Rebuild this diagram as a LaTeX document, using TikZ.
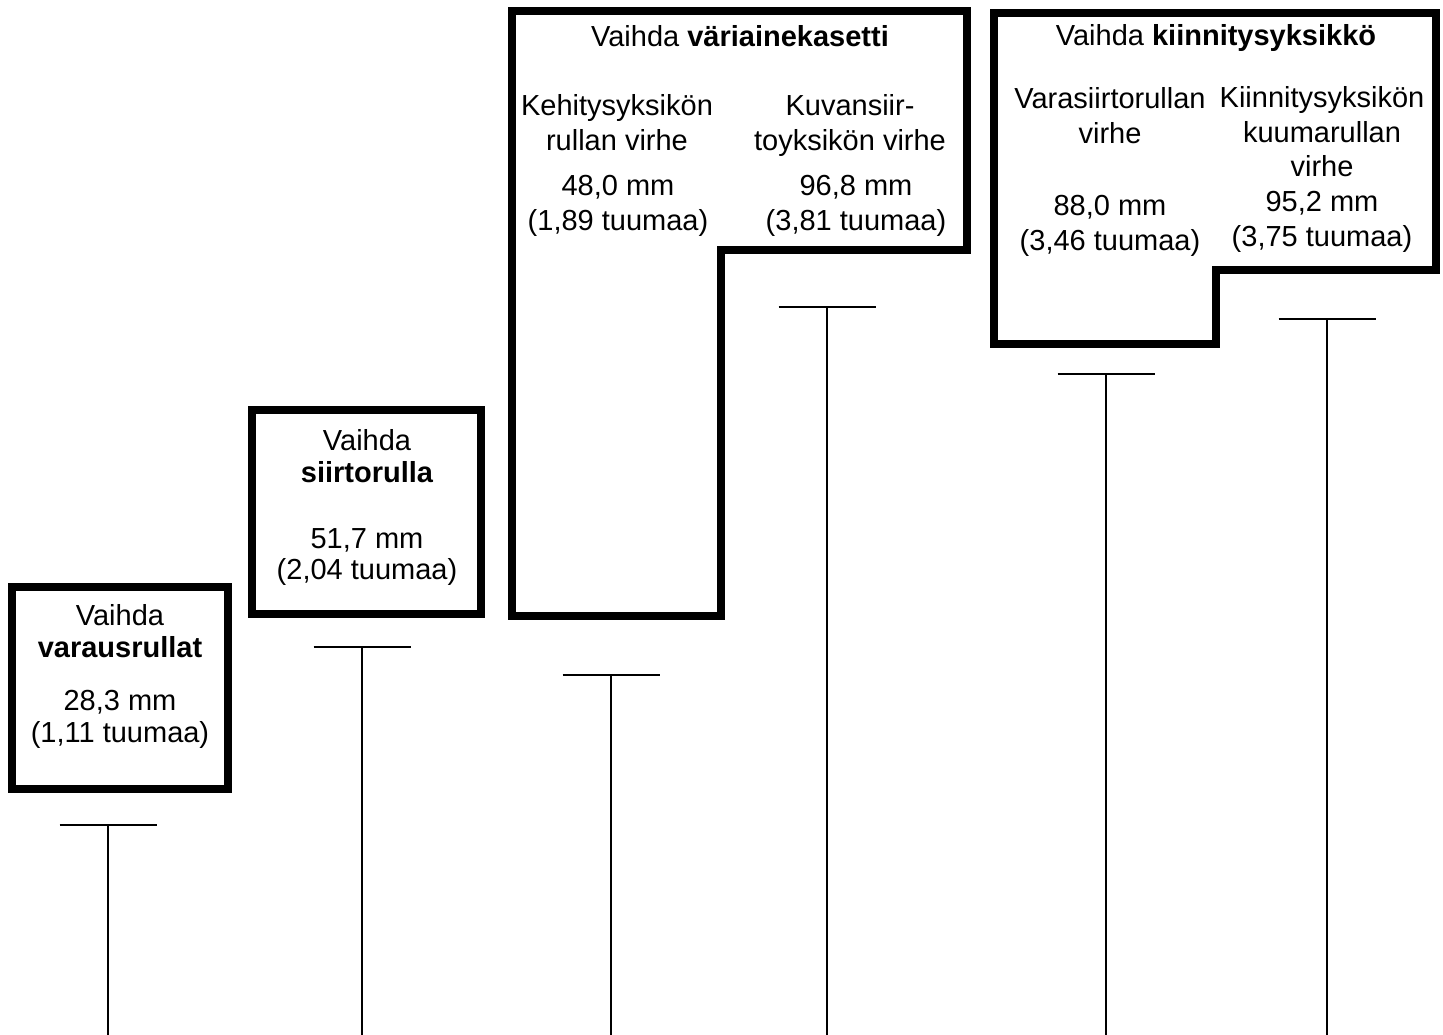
\documentclass[tikz,border=0pt]{standalone}
\usepackage{fontspec}
\setmainfont{Liberation Sans}
\begin{document}
\begin{tikzpicture}[x=1pt,y=-1pt,
  box/.style={line width=8.5pt, line join=miter},
  tick/.style={line width=2pt},
  lbl/.style={anchor=base, inner sep=0pt, font=\fontsize{29}{35}\selectfont}]
\useasboundingbox (0,0) rectangle (1443,1034);
% boxes
\draw[box] (12,587) rectangle (228,789);
\draw[box] (252,410) rectangle (481,614);
\draw[box] (512,11) -- (967,11) -- (967,250) -- (721,250) -- (721,616) -- (512,616) -- cycle;
\draw[box] (994,13) -- (1436,13) -- (1436,270) -- (1216,270) -- (1216,344) -- (994,344) -- cycle;
% T markers
\foreach \n/\x/\y in {a/108/825, b/362/647, c/611/675, d/827/307, e/1106/374, f/1327/319}{
  \coordinate (\n top) at (\x,\y);
  \coordinate (\n bot) at (\x,1036);
  \coordinate (\n l) at (\x-48.5,\y);
  \coordinate (\n r) at (\x+48.5,\y);
  \draw[tick] (\n l) -- (\n r);
  \draw[tick] (\n top) -- (\n bot);
}
% box 1
\node[lbl] (a1) at (120,625) {Vaihda};
\node[lbl] (a2) at (120,657) {\bfseries varausrullat};
\node[lbl] (a3) at (120,710) {28,3 mm};
\node[lbl] (a4) at (120,742) {(1,11 tuumaa)};
% box 2
\node[lbl] (b1) at (367,450) {Vaihda};
\node[lbl] (b2) at (367,482) {\bfseries siirtorulla};
\node[lbl] (b3) at (367,548) {51,7 mm};
\node[lbl] (b4) at (367,579) {(2,04 tuumaa)};
% box 3
\node[lbl] (c0) at (740,46) {Vaihda \bfseries väriainekasetti};
\node[lbl] (c1) at (617,115) {Kehitysyksikön};
\node[lbl] (c2) at (617,150) {rullan virhe};
\node[lbl] (c3) at (618,195) {48,0 mm};
\node[lbl] (c4) at (618,230) {(1,89 tuumaa)};
\node[lbl] (d1) at (850,115) {Kuvansiir-};
\node[lbl] (d2) at (850,150) {toyksikön virhe};
\node[lbl] (d3) at (856,195) {96,8 mm};
\node[lbl] (d4) at (856,230) {(3,81 tuumaa)};
% box 4
\node[lbl] (e0) at (1216,45) {Vaihda \bfseries kiinnitysyksikkö};
\node[lbl] (e1) at (1110,108) {Varasiirtorullan};
\node[lbl] (e2) at (1110,143) {virhe};
\node[lbl] (e3) at (1110,215) {88,0 mm};
\node[lbl] (e4) at (1110,250) {(3,46 tuumaa)};
\node[lbl] (f1) at (1322,107) {Kiinnitysyksikön};
\node[lbl] (f2) at (1322,142) {kuumarullan};
\node[lbl] (f3) at (1322,176) {virhe};
\node[lbl] (f4) at (1322,211) {95,2 mm};
\node[lbl] (f5) at (1322,246) {(3,75 tuumaa)};
\end{tikzpicture}
\end{document}
